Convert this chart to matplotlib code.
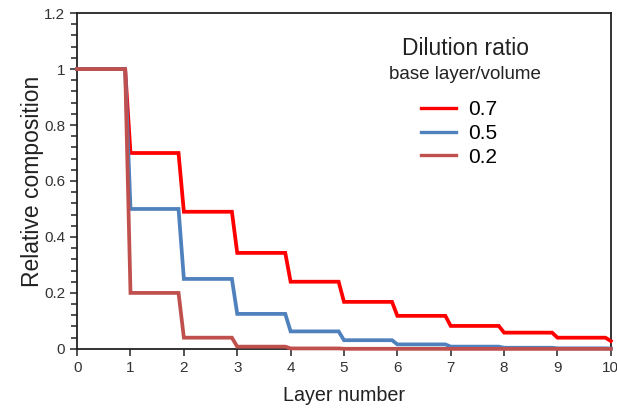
import matplotlib
matplotlib.use("Agg")
import matplotlib.pyplot as plt
from matplotlib.ticker import MultipleLocator

plt.rcParams['font.family'] = ['Liberation Sans', 'DejaVu Sans']

layers = list(range(11))
ratios = ['0.7', '0.5', '0.2']
comp_07 = [1, 0.7, 0.49, 0.343, 0.240, 0.168, 0.118, 0.082, 0.058, 0.040, 0.028]
comp_05 = [1, 0.5, 0.25, 0.125, 0.0625, 0.031, 0.016, 0.008, 0.004, 0.002, 0.001]
comp_02 = [1, 0.2, 0.04, 0.008, 0.0016, 0.0003, 0.0001, 0, 0, 0, 0]
colors = ['#ff0000', '#4f81bd', '#c0504d']

# each layer holds its value until 0.1 before the next layer, then drops
ramp = 0.1


def steps(vals):
    xs, ys = [layers[0]], [vals[0]]
    for n in range(1, len(vals)):
        xs += [layers[n] - ramp, layers[n]]
        ys += [vals[n - 1], vals[n]]
    return xs, ys


fig = plt.figure(figsize=(6.17, 4.09), dpi=100)
ax = fig.add_axes([0.125, 0.147, 0.865, 0.821])

for lab, vals, c in zip(ratios, [comp_07, comp_05, comp_02], colors):
    xs, ys = steps(vals)
    ax.plot(xs, ys, color=c, lw=2.7, label=lab, clip_on=False,
            solid_joinstyle='miter', zorder=3)

ax.set_xlim(0, 10)
ax.set_ylim(0, 1.2)
ax.xaxis.set_major_locator(MultipleLocator(1))
ax.yaxis.set_minor_locator(MultipleLocator(0.04))
ax.set_yticks([0, 0.2, 0.4, 0.6, 0.8, 1.0, 1.2])
ax.set_yticklabels(['0', '0.2', '0.4', '0.6', '0.8', '1', '1.2'])
ax.tick_params(axis='both', which='major', labelsize=11, length=5, width=1.2,
               color='#333333', labelcolor='#333333')
ax.tick_params(axis='y', which='minor', length=4, width=1.2, color='#333333')
for s in ax.spines.values():
    s.set_linewidth(1.3)
    s.set_color('#222222')

ax.set_xlabel('Layer number', fontsize=14.2, color='#222222', labelpad=8)
ax.set_ylabel('Relative composition', fontsize=16.5, color='#222222', labelpad=0)

ax.text(0.727, 0.896, 'Dilution ratio', transform=ax.transAxes,
        ha='center', va='center', fontsize=16.5, color='#222222')
ax.text(0.727, 0.818, 'base layer/volume', transform=ax.transAxes,
        ha='center', va='center', fontsize=13.5, color='#222222')
leg = ax.legend(loc='upper left', bbox_to_anchor=(0.644, 0.740), frameon=False,
                fontsize=15, handlelength=1.7, handletextpad=0.55,
                labelspacing=0.22, borderaxespad=0, borderpad=0)
for line in leg.get_lines():
    line.set_linewidth(2.4)

fig.savefig('out.png', dpi=100)
